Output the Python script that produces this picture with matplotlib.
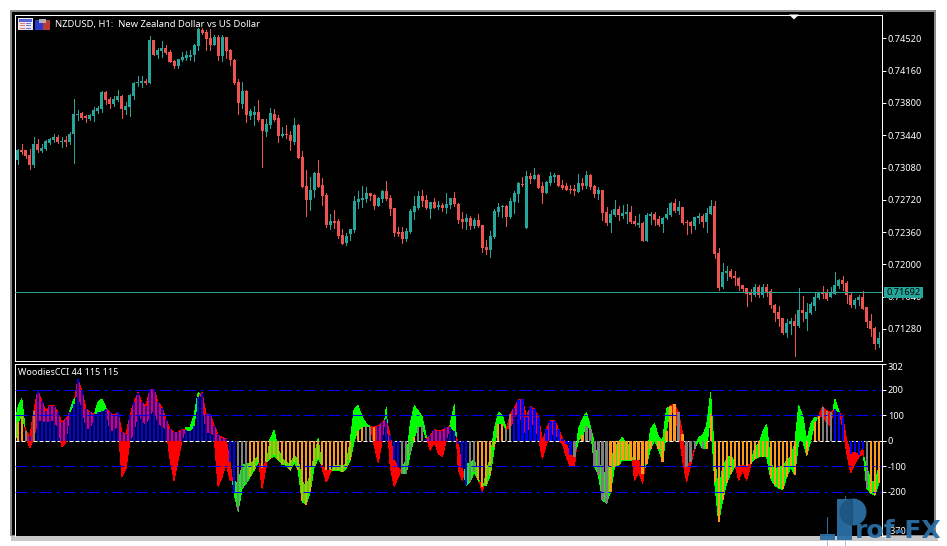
'''
NZDUSD H1 candles with the WoodiesCCI pane below, MT5 look
'''
import numpy as np
import matplotlib
matplotlib.use("Agg")
import matplotlib.pyplot as plt
from matplotlib.patches import Rectangle, Polygon, Wedge

# prices in points (1/100000)
opens = [73161,73168,73272,73272,73216,73105,73339,73265,73291,73358,
    73384,73421,73365,73384,73361,73450,73662,73688,73651,73621,
    73651,73707,73733,73918,73840,73792,73837,73874,73721,73751,
    73874,74018,74026,74044,74022,74497,74334,74379,74408,74367,
    74264,74208,74275,74297,74312,74330,74431,74616,74587,74520,
    74449,74535,74319,74531,74386,74282,74030,73792,73933,73658,
    73662,73699,73617,73473,73551,73673,73629,73428,73450,73447,
    73369,73551,73194,72871,72715,72827,73016,72882,72771,72437,
    72481,72481,72325,72236,72336,72381,72693,72715,72726,72793,
    72771,72648,72726,72815,72737,72626,72359,72359,72281,72359,
    72582,72626,72760,72715,72615,72693,72637,72659,72626,72659,
    72737,72671,72504,72470,72515,72426,72492,72437,72192,72158,
    72303,72582,72637,72648,72526,72693,72782,72893,72403,72983,
    72949,72994,72871,72793,72905,72971,72994,72882,72871,72838,
    72838,72804,72905,72871,72994,72871,72782,72827,72582,72459,
    72548,72615,72537,72559,72582,72481,72437,72459,72258,72537,
    72559,72504,72448,72515,72548,72682,72593,72637,72470,72470,
    72426,72515,72537,72470,72559,72648,72125,71746,71902,71924,
    71869,71846,71768,71735,71690,71657,71746,71657,71746,71702,
    71546,71468,71401,71234,71334,71367,71312,71490,71390,71457,
    71534,71624,71690,71679,71635,71668,71757,71824,71791,71657,
    71546,71601,71635,71523,71367,71289,71111]
closes = [73179,73272,73257,73205,73105,73339,73272,73302,73372,73398,
    73421,73361,73380,73361,73458,73673,73681,73636,73629,73666,
    73718,73740,73922,73829,73792,73840,73874,73729,73762,73889,
    74022,74033,74041,74022,74497,74334,74386,74408,74356,74252,
    74208,74286,74312,74330,74338,74442,74627,74579,74509,74449,
    74535,74319,74535,74379,74275,74022,73799,73929,73662,73707,
    73699,73606,73487,73562,73688,73614,73428,73450,73443,73372,
    73551,73187,72864,72715,72827,73020,72867,72760,72437,72481,
    72466,72314,72232,72314,72392,72704,72726,72737,72793,72760,
    72648,72737,72815,72726,72615,72348,72336,72281,72370,72593,
    72648,72760,72704,72626,72693,72626,72659,72626,72671,72737,
    72671,72492,72470,72515,72426,72492,72426,72181,72158,72314,
    72593,72637,72648,72526,72704,72793,72905,72882,72983,72949,
    72994,72849,72793,72916,72983,72994,72871,72849,72827,72827,
    72815,72905,72871,72994,72860,72782,72827,72570,72459,72559,
    72615,72548,72570,72582,72470,72448,72459,72258,72548,72559,
    72492,72437,72515,72559,72682,72593,72637,72459,72459,72426,
    72526,72537,72470,72570,72648,72114,71735,71913,71924,71858,
    71846,71757,71724,71668,71657,71746,71657,71746,71690,71546,
    71457,71390,71234,71345,71367,71312,71490,71457,71468,71557,
    71635,71690,71668,71612,71690,71768,71824,71779,71657,71546,
    71601,71635,71501,71356,71278,71111,71178]
highs = [73198,73291,73346,73272,73291,73421,73402,73346,73391,73413,
    73458,73447,73421,73428,73476,73840,73725,73699,73662,73673,
    73755,73762,73933,73933,73866,73874,73940,73885,73811,73903,
    74037,74096,74096,74070,74542,74505,74416,74486,74442,74386,
    74282,74293,74367,74379,74386,74460,74639,74639,74609,74627,
    74553,74553,74553,74535,74405,74290,74063,74030,73940,73736,
    73770,73829,73617,73617,73747,73736,73666,73528,73551,73487,
    73629,73569,73261,73049,72971,73027,73161,72960,72793,72559,
    72604,72504,72392,72348,72392,72760,72815,72871,72860,72793,
    72782,72749,72827,72927,72771,72626,72414,72414,72403,72615,
    72760,72815,72827,72771,72693,72737,72704,72682,72793,72737,
    72804,72682,72582,72559,72537,72515,72559,72437,72270,72370,
    72615,72682,72659,72659,72737,72815,72916,72971,73038,73016,
    73072,73005,72916,72927,73027,73016,72994,72938,72905,72882,
    72882,73005,72960,73038,73005,72882,72860,72827,72637,72604,
    72715,72648,72659,72671,72648,72537,72559,72470,72570,72582,
    72582,72537,72526,72626,72693,72726,72704,72637,72492,72481,
    72526,72570,72559,72626,72715,72704,72181,72013,71980,71947,
    71924,71858,71768,71735,71724,71779,71768,71779,71779,71724,
    71557,71535,71401,71390,71401,71445,71735,71646,71568,71579,
    71679,71690,71757,71724,71746,71913,71835,71869,71813,71679,
    71624,71657,71702,71523,71445,71300,71245]
lows = [73142,73116,73228,73190,73060,73087,73254,73250,73272,73346,
    73365,73358,73309,73324,73339,73131,73606,73617,73584,73606,
    73599,73688,73699,73792,73740,73766,73822,73632,73673,73651,
    73840,73992,73978,74011,74022,74330,74304,74312,74349,74252,
    74189,74189,74264,74282,74275,74267,74386,74572,74386,74386,
    74442,74282,74267,74304,74226,74007,73673,73744,73588,73621,
    73551,73599,73087,73428,73525,73595,73365,73417,73413,73272,
    73339,73187,72864,72541,72604,72749,72860,72659,72414,72392,
    72403,72292,72225,72214,72270,72359,72626,72637,72693,72715,
    72615,72648,72693,72715,72548,72314,72314,72236,72259,72348,
    72504,72615,72648,72615,72515,72626,72615,72593,72570,72626,
    72648,72459,72403,72392,72392,72403,72414,72136,72114,72080,
    72292,72537,72526,72426,72515,72570,72693,72871,72403,72905,
    72949,72849,72682,72793,72882,72916,72871,72838,72827,72793,
    72771,72804,72838,72849,72838,72749,72726,72492,72437,72359,
    72537,72492,72515,72459,72459,72437,72414,72258,72258,72448,
    72437,72426,72359,72504,72537,72582,72559,72448,72336,72348,
    72392,72459,72414,72359,72559,72069,71713,71735,71824,71846,
    71768,71713,71690,71534,71590,71646,71635,71635,71646,71512,
    71367,71312,71223,71189,71223,70981,71300,71367,71267,71445,
    71490,71612,71624,71601,71635,71668,71735,71713,71568,71523,
    71512,71546,71501,71300,71200,71056,71078]

# CCI (bars go to this one) and the second line it is filled against
cci = [-57,72,98,40,17,117,197,156,117,137,
    137,111,72,85,111,143,240,195,124,111,
    104,111,117,124,111,98,111,34,25,98,
    150,188,150,137,201,201,150,130,85,46,
    34,34,43,44,37,59,172,188,104,104,
    59,25,12,8,-83,-205,-276,-186,-166,-141,
    -115,-83,-108,-83,-70,-57,-74,-92,-95,-115,
    -83,-115,-237,-250,-199,-102,-70,-95,-115,-115,
    -115,-115,-121,-108,-76,1,40,53,59,55,
    53,59,72,85,21,-76,-102,-128,-128,-50,
    14,53,59,8,21,43,40,40,53,55,
    40,-12,-108,-173,-160,-121,-154,-179,-173,-134,
    -25,66,66,46,104,130,159,163,92,134,
    124,92,1,46,79,79,46,8,-12,-57,
    -63,1,21,59,46,-102,-134,-231,-244,-199,
    -102,-95,-76,-76,-76,-76,-76,-128,-89,-31,
    1,-31,-83,40,137,143,111,27,-102,-83,
    -31,1,-31,-31,104,-160,-317,-231,-166,-128,
    -102,-102,-95,-102,-89,-70,-63,-63,-63,-147,
    -173,-186,-190,-141,-102,-134,1,1,-57,1,
    72,98,133,117,111,124,111,92,1,-50,
    -44,-57,-31,-186,-205,-212,-166]
trend = [46,130,166,21,-28,14,79,79,72,79,
    79,53,-22,-5,117,163,182,130,53,46,
    98,150,163,130,40,40,66,-141,-108,1,
    34,117,79,66,98,130,66,59,46,-70,
    -154,-76,1,53,53,98,188,169,34,34,
    21,-179,-141,-89,-154,-156,-166,-95,-89,-89,
    -76,-63,-186,-102,8,40,-31,-70,-83,-95,
    -57,-76,-154,-186,-128,-63,8,-108,-160,-128,
    -95,-95,-102,-89,1,124,137,92,66,55,
    -18,-86,1,130,-102,-179,-141,-102,-76,66,
    137,117,92,14,-37,-5,-50,-63,1,66,
    141,-115,-154,-89,-89,-70,-147,-199,-121,-63,
    46,111,98,46,53,92,117,66,14,85,
    53,14,-70,-12,21,34,8,-12,-63,-102,
    -99,46,85,111,53,-12,-76,-128,-121,-89,
    -25,-5,14,-18,-12,-154,-121,-166,-63,46,
    66,14,1,124,137,92,40,-76,-160,-95,
    -31,14,21,59,188,-63,-205,-102,-70,-57,
    -83,-154,-115,-154,-95,-25,-12,34,66,-89,
    -115,-102,-102,-76,-63,-12,137,98,1,66,
    92,92,98,72,59,163,117,53,-50,-125,
    -89,-63,-50,-102,-154,-166,-102]
bar_codes = ("ooogbg" + "b" * 50 + "g" * 3 + "o" * 29 + "g" * 2 + "o" + "b" * 6 + "g" * 3 + "o"
    + "g" * 2 + "b" * 11 + "g" * 2 + "o" * 7 + "g" * 2 + "b" * 15 + "g" + "o" * 2 + "g" * 6
    + "o" * 17 + "g" + "o" + "g" * 5 + "o" * 29 + "g" * 3 + "b" * 8 + "g" + "o" * 3)

price_ticks = [0.74520, 0.74160, 0.73800, 0.73440, 0.73080, 0.72720, 0.72360, 0.72000, 0.71640, 0.71280]
cci_ticks = [302, 200, 100, 0, -100, -200, -370]
last_price = 0.71692

UP = "#26a69a"
DOWN = "#ef5350"
BAR_COLORS = {"b": "#0000ff", "o": "#ff9a1a", "g": "#808080"}
W, H = 947, 546
PX = 0.72  # one pixel in points at dpi 100


def pane(x0, y0, x1, y1):
    """axes placed by pixel box, y counted from the top of the figure"""
    ax = fig.add_axes([x0 / W, 1 - y1 / H, (x1 - x0) / W, (y1 - y0) / H])
    ax.set_facecolor("black")
    ax.yaxis.tick_right()
    ax.tick_params(axis="y", colors="white", length=3, width=PX, pad=1.5, labelsize=6.6)
    ax.set_xticks([])
    for side, spine in ax.spines.items():
        spine.set_color("white")
        spine.set_linewidth(PX)
    ax.set_xlim(0.17, 216.67)
    return ax


fig = plt.figure(figsize=(W / 100, H / 100), dpi=100, facecolor="white")
plt.rcParams["font.family"] = ["Noto Sans", "DejaVu Sans"]

# window frame, in figure pixels
back = fig.add_axes([0, 0, 1, 1], zorder=-1)
back.set_xlim(0, W)
back.set_ylim(H, 0)
back.axis("off")
back.add_patch(Rectangle((11, 535), 927, 6, color="#c8c8c8", lw=0))
back.add_patch(Rectangle((10, 10), 926, 526, color="#8c8c8c", lw=0))
back.add_patch(Rectangle((12, 12), 922, 523, color="black", lw=0))

# candles
x = np.arange(len(opens))
o = np.array(opens) / 100000
c = np.array(closes) / 100000
hi = np.array(highs) / 100000
lo = np.array(lows) / 100000
colors = [UP if cl >= op else DOWN for op, cl in zip(o, c)]

ax1 = pane(14.5, 14.5, 881.5, 361)
ax1.set_ylim(0.70922, 0.74787)
ax1.vlines(x, lo, hi, colors=colors, linewidth=PX, antialiased=False, zorder=2)
ax1.bar(x, np.maximum(np.abs(c - o), 0.00002), bottom=np.minimum(o, c), width=0.75,
        color=colors, linewidth=0, antialiased=False, zorder=3)
ax1.axhline(last_price, color=UP, linewidth=PX, zorder=4)
ax1.set_yticks(price_ticks)
ax1.set_yticklabels(["%.5f" % p for p in price_ticks])

# indicator pane
ax2 = pane(14.5, 363.5, 881.5, 535.5)
ax2.set_ylim(-370, 302)
ax2.spines["bottom"].set_visible(False)
a = np.array(cci, dtype=float)
b = np.array(trend, dtype=float)
ax2.fill_between(x, a, b, where=b >= a, interpolate=True, color="#00ff00", linewidth=0, antialiased=False, zorder=2)
ax2.fill_between(x, a, b, where=a >= b, interpolate=True, color="#ff0000", linewidth=0, antialiased=False, zorder=2)
ax2.axhline(0, color="white", linewidth=PX, linestyle=(0, (4, 2)), zorder=1)
ax2.bar(x, a, width=0.55, color=[BAR_COLORS[k] for k in bar_codes], linewidth=0, antialiased=False, zorder=3)
for level in [200, 100, -100, -200]:
    ax2.axhline(level, color="#0000ff", linewidth=PX, linestyle=(0, (13, 4, 3, 4)), zorder=4)
ax2.set_yticks(cci_ticks)
labels = ax2.set_yticklabels([str(v) for v in cci_ticks])
labels[0].set_va("top")
labels[-1].set_va("bottom")

# everything on top, in figure pixels
top = fig.add_axes([0, 0, 1, 1], zorder=10)
top.set_xlim(0, W)
top.set_ylim(H, 0)
top.axis("off")
top.patch.set_alpha(0)

top.text(55, 24.5, "NZDUSD, H1:  New Zealand Dollar vs US Dollar", color="white", fontsize=6.8, va="center")
top.text(18, 372.5, "WoodiesCCI 44 115 115", color="white", fontsize=6.5, va="center")
top.add_patch(Rectangle((884, 286.5), 39, 11, color=UP, lw=0))
top.text(903.5, 292.3, "%.5f" % last_price, color="black", fontsize=6.6, ha="center", va="center")
top.add_patch(Polygon([(789, 14.5), (799, 14.5), (794, 19.5)], color="white", lw=0))

# the two toolbar icons
top.add_patch(Rectangle((18, 18), 15, 12, color="#e8e8f4", lw=0))
top.add_patch(Rectangle((19, 19), 13, 2.5, color="#5a62d8", lw=0))
for row in [22.5, 25, 27.5]:
    top.add_patch(Rectangle((20, row), 5, 1.4, color="#e87a6a", lw=0))
    top.add_patch(Rectangle((26, row), 5, 1.4, color="#6c78d8", lw=0))
top.add_patch(Rectangle((35, 19.5), 8, 10.5, color="#2a3ad0", lw=0))
top.add_patch(Rectangle((43, 19.5), 7, 10.5, color="#b83a32", lw=0))
top.add_patch(Rectangle((39, 19), 7, 4, color="#b0b0b0", lw=0))

# Prof-FX watermark
BLUE = "#2b6ea3"
top.add_patch(Rectangle((837, 499), 15, 41, color=BLUE, lw=0, alpha=0.95))
top.add_patch(Wedge((853, 512), 13.5, -90, 90, color=BLUE, lw=0, alpha=0.95))
top.add_patch(Wedge((853, 512), 13.5, 90, 270, color="#1d5580", lw=0, alpha=0.95))
top.add_patch(Rectangle((820, 534), 15, 6, color=BLUE, lw=0, alpha=0.95))
top.add_patch(Rectangle((827, 517), 1, 17, color=BLUE, lw=0))
top.add_patch(Rectangle((845, 496), 1, 4, color=BLUE, lw=0))
top.add_patch(Rectangle((827, 540), 1, 6, color="#a9c3d8", lw=0))
top.add_patch(Rectangle((845, 540), 1, 6, color="#a9c3d8", lw=0))
top.text(855, 538, "rof-FX", color=BLUE, fontsize=18, fontweight="bold", family="DejaVu Sans", va="baseline", alpha=0.95)

fig.savefig("out.png", dpi=100, facecolor="white")
